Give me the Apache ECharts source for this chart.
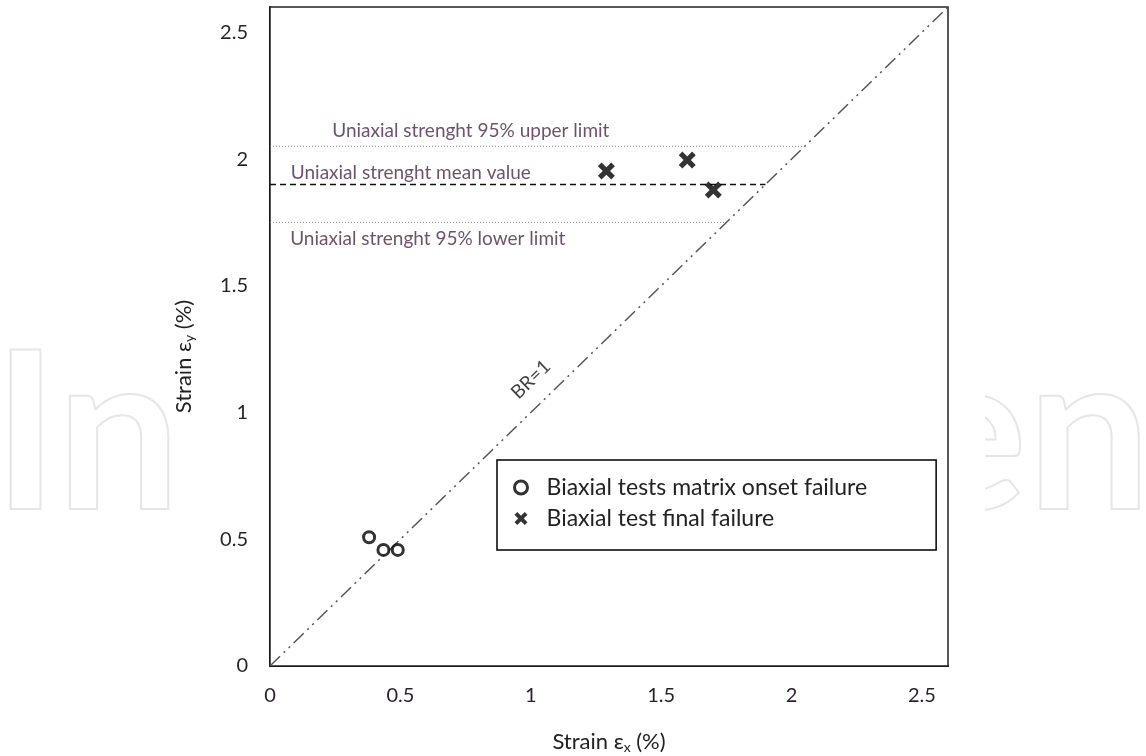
<!DOCTYPE html>
<html>
<head>
<meta charset="utf-8">
<script src="https://cdn.jsdelivr.net/npm/echarts@6/dist/echarts.min.js"></script>
<style>
  html, body { margin: 0; padding: 0; background: #fff; }
  #chart { width: 1146px; height: 756px; }
</style>
</head>
<body>
<div id="chart"></div>
<script>
// ---- data ----
const onsetX = [0.38, 0.435, 0.49];
const onsetY = [0.508, 0.458, 0.458];
const finalX = [1.29, 1.60, 1.70];
const finalY = [1.953, 1.996, 1.878];
const upperLimit = 2.05;
const meanValue = 1.90;
const lowerLimit = 1.75;
const axisMax = 2.6;
const tickInterval = 0.5;
const seriesNames = ['Biaxial tests matrix onset failure', 'Biaxial test final failure'];
const annotationText = ['Uniaxial strenght 95% upper limit', 'Uniaxial strenght mean value', 'Uniaxial strenght 95% lower limit'];
const annotationX = [0.77, 0.54, 0.605];
const annotationY = [2.11, 1.945, 1.684];
const brLabel = 'BR=1';
const brX = 1.0, brY = 1.13;

const FONT = 'Lato, "Open Sans", sans-serif';
const crossPath = 'path://M0,3 L3,0 L7,4 L11,0 L14,3 L10,7 L14,11 L11,14 L7,10 L3,14 L0,11 L4,7 Z';

const chart = echarts.init(document.getElementById('chart'));
chart.setOption({
  animation: false,
  backgroundColor: '#fff',
  textStyle: { fontFamily: FONT },
  graphic: [
    { type: 'text', left: -8, top: 327, z: -10, silent: true,
      style: { text: 'Intech', font: 'bold 220px Lato', fill: 'none', stroke: '#e6e6e6', lineWidth: 2 } },
    { type: 'text', right: -6, top: 327, z: -10, silent: true,
      style: { text: 'Open', font: 'bold 220px Lato', fill: 'none', stroke: '#e6e6e6', lineWidth: 2 } },
    { type: 'rect', left: 172, top: 0, z: -5, silent: true,
      shape: { width: 813, height: 756 }, style: { fill: '#fff' } }
  ],
  grid: {
    left: 270, right: 198, top: 7, bottom: 90,
    outerBoundsMode: 'none', containLabel: false,
    show: true, backgroundColor: '#fff', borderColor: '#222', borderWidth: 1.5, z: 1
  },
  legend: {
    data: [
      { name: seriesNames[0], itemStyle: { color: '#fff', borderColor: '#000', borderWidth: 3 } },
      { name: seriesNames[1], itemStyle: { color: '#000' } }
    ],
    orient: 'vertical',
    left: 497, top: 460,
    padding: [16, 69, 20, 16],
    itemGap: 8,
    itemWidth: 13, itemHeight: 13,
    backgroundColor: '#fff',
    borderColor: '#000', borderWidth: 1.5,
    textStyle: { fontSize: 23, color: '#222', fontFamily: FONT, padding: [0, 0, 0, 14] }
  },
  xAxis: {
    type: 'value', min: 0, max: axisMax, interval: tickInterval,
    name: 'Strain ε{sub|x} (%)', nameLocation: 'middle', nameGap: 64,
    nameTextStyle: { fontSize: 22, color: '#222', fontFamily: FONT,
      rich: { sub: { fontSize: 14, color: '#222', fontFamily: FONT, padding: [10, 0, 0, 0] } } },
    axisLine: { onZero: false, lineStyle: { color: '#000', width: 2 } },
    axisTick: { inside: true, length: 7, lineStyle: { color: '#000', width: 1.5 } },
    axisLabel: { margin: 20, fontSize: 20, color: '#2a1f2a', fontFamily: FONT, showMaxLabel: false },
    splitLine: { show: false }
  },
  yAxis: {
    type: 'value', min: 0, max: axisMax, interval: tickInterval,
    name: 'Strain ε{sub|y} (%)', nameLocation: 'middle', nameGap: 74, nameRotate: 90,
    nameTextStyle: { fontSize: 22, color: '#222', fontFamily: FONT, padding: [0, 40, 0, 0],
      rich: { sub: { fontSize: 14, color: '#222', fontFamily: FONT, padding: [10, 0, 0, 0] } } },
    axisLine: { onZero: false, lineStyle: { color: '#000', width: 2 } },
    axisTick: { inside: true, length: 7, lineStyle: { color: '#000', width: 1.5 } },
    axisLabel: { margin: 22, fontSize: 20, color: '#2a1f2a', fontFamily: FONT, showMaxLabel: false },
    splitLine: { show: false }
  },
  series: [
    { type: 'line', name: 'BR', silent: true, symbol: 'none', z: 2,
      data: [[0, 0], [axisMax, axisMax]],
      lineStyle: { color: '#555', width: 1.5, type: [14, 5, 2, 5, 2, 5] } },
    { type: 'line', name: 'upper', silent: true, symbol: 'none', z: 2,
      data: [[0, upperLimit], [upperLimit, upperLimit]],
      lineStyle: { color: '#888', width: 1, type: [1, 2] } },
    { type: 'line', name: 'mean', silent: true, symbol: 'none', z: 2,
      data: [[0, meanValue], [meanValue, meanValue]],
      lineStyle: { color: '#111', width: 1.5, type: [6, 4] } },
    { type: 'line', name: 'lower', silent: true, symbol: 'none', z: 2,
      data: [[0, lowerLimit], [lowerLimit, lowerLimit]],
      lineStyle: { color: '#888', width: 1, type: [1, 2] } },
    { type: 'scatter', name: 'annotations', silent: true, symbolSize: 0, z: 3,
      data: annotationText.map((t, i) => ({ value: [annotationX[i], annotationY[i]], name: t })),
      label: { show: true, position: 'inside', formatter: p => p.name,
        fontSize: 19, color: '#4a2748', fontFamily: FONT } },
    { type: 'scatter', name: 'brlabel', silent: true, symbolSize: 0, z: 3,
      data: [{ value: [brX, brY], name: brLabel }],
      label: { show: true, position: 'inside', formatter: p => p.name, rotate: 44,
        fontSize: 19, color: '#111', fontFamily: FONT } },
    { type: 'scatter', name: seriesNames[0], z: 4,
      data: onsetX.map((x, i) => [x, onsetY[i]]),
      symbol: 'circle', symbolSize: 11,
      itemStyle: { color: '#fff', borderColor: '#000', borderWidth: 3 } },
    { type: 'scatter', name: seriesNames[1], z: 4,
      data: finalX.map((x, i) => [x, finalY[i]]),
      symbol: crossPath, symbolSize: 17,
      itemStyle: { color: '#000' } }
  ]
});
</script>
</body>
</html>
